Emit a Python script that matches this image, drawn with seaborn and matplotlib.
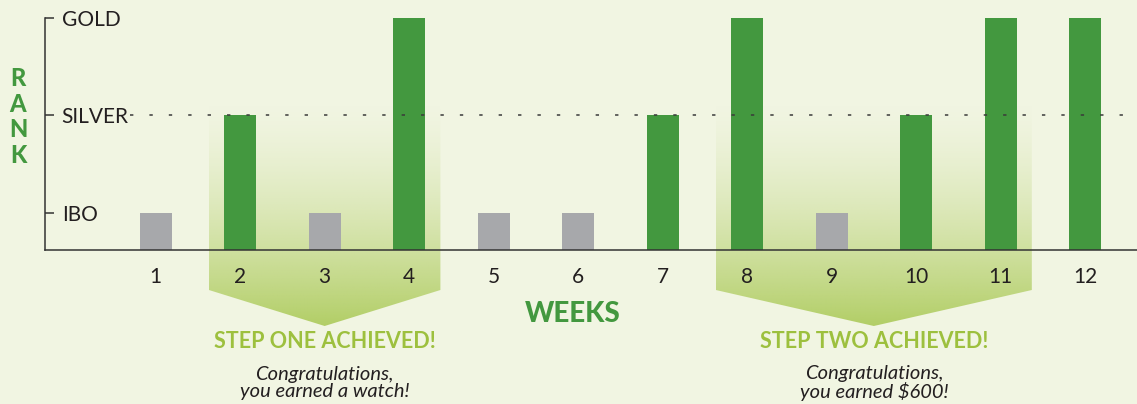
import numpy as np
import pandas as pd
import seaborn as sns
import matplotlib.pyplot as plt
from matplotlib.patches import Polygon

# data
weeks = ['1', '2', '3', '4', '5', '6', '7', '8', '9', '10', '11', '12']
ranks = ['IBO', 'SILVER', 'IBO', 'GOLD', 'IBO', 'IBO', 'SILVER', 'GOLD', 'IBO', 'SILVER', 'GOLD', 'GOLD']
rank_labels = ['IBO', 'SILVER', 'GOLD']
rank_levels = [1, 2, 3]
step_titles = ['STEP ONE ACHIEVED!', 'STEP TWO ACHIEVED!']
step_messages = ['Congratulations,\nyou earned a watch!', 'Congratulations,\nyou earned $600!']
step_weeks = [['2', '3', '4'], ['8', '9', '10', '11']]

BG = '#f1f5e2'
GREEN = '#43983f'
GRAY = '#a7a8ab'
LIME = '#9dc03e'
INK = '#231f20'
W, H = 1137, 404

sns.set_theme(style='white')
plt.rcParams['font.family'] = ['Lato', 'DejaVu Sans']

level_of = dict(zip(rank_labels, rank_levels))
df = pd.DataFrame({'week': weeks, 'rank': [level_of[r] for r in ranks]})
colors = [GRAY if r == 'IBO' else GREEN for r in ranks]

fig = plt.figure(figsize=(W / 100, H / 100), dpi=100)
fig.patch.set_facecolor(BG)
ax_bg = fig.add_axes([0, 0, 1, 1], zorder=0)
ax_bg.set_xlim(0, W)
ax_bg.set_ylim(0, H)
ax_bg.axis('off')

ax = fig.add_axes([45 / W, 1 - 250 / H, 1 - 45 / W, 232 / H], zorder=1)
ax.set_facecolor('none')

sns.barplot(data=df, x='week', y='rank', hue='week', palette=colors, legend=False,
            width=0.38, saturation=1, linewidth=0, ax=ax, zorder=2)
ax.set_xlim(-1.31, 11.615)
ax.set_ylim(0.62, 3.0)

# silver reference line
ax.axhline(level_of['SILVER'], xmin=0.078, color='#3a3a3a', lw=1.1,
           linestyle=(0, (2.2, 10.5)), zorder=3)

ax.set_yticks(rank_levels)
ax.set_yticklabels(rank_labels)
for lab in ax.get_yticklabels():
    lab.set_horizontalalignment('left')
ax.tick_params(axis='y', direction='in', length=6.5, width=1.1, color='#333333',
               pad=-12, labelsize=15, labelcolor=INK, left=True)
ax.tick_params(axis='x', length=0, pad=12, labelsize=15, labelcolor=INK)
for side in ['top', 'right']:
    ax.spines[side].set_visible(False)
for side in ['left', 'bottom']:
    ax.spines[side].set_color('#333333')
    ax.spines[side].set_linewidth(1.1)

ax.set_xlabel('WEEKS', fontsize=20, fontweight='black', color=GREEN)
ax.xaxis.set_label_coords((573 - 45) / (W - 45), -0.22)
ax.set_ylabel('')
fig.text(18 / W, 1 - 117 / H, 'R\nA\nN\nK', ha='center', va='center', fontsize=17,
         fontweight='black', color=GREEN, linespacing=1.15)

# gradient chevrons behind the steps
base_y = H - 250
n = 256
t = np.linspace(0, 1, n)
rgb = np.array([178, 206, 102]) / 255
grad = np.zeros((n, 1, 4))
grad[:, 0, :3] = rgb
grad[:, 0, 3] = (1 - t) ** 1.5
pos = {w: i for i, w in enumerate(weeks)}
for title, msg, wk in zip(step_titles, step_messages, step_weeks):
    x0 = ax.transData.transform((pos[wk[0]] - 0.37, 1))[0]
    x1 = ax.transData.transform((pos[wk[-1]] + 0.37, 1))[0]
    xc = (x0 + x1) / 2
    top = H - 100
    side = base_y - 40
    tip = base_y - 76
    poly = Polygon([(x0, top), (x1, top), (x1, side), (xc, tip), (x0, side)],
                   closed=True, facecolor='none', edgecolor='none', transform=ax_bg.transData)
    ax_bg.add_patch(poly)
    im = ax_bg.imshow(grad, extent=(x0, x1, tip, top), origin='lower', aspect='auto',
                      interpolation='bilinear', zorder=1)
    im.set_clip_path(poly)
    fig.text(xc / W, 1 - 342 / H, title, ha='center', va='center', fontsize=15.5,
             fontweight='bold', color=LIME)
    fig.text(xc / W, 1 - 383 / H, msg, ha='center', va='center', fontsize=14.5,
             style='italic', color=INK, linespacing=1.05)

fig.savefig('out.png', dpi=100, facecolor=BG)
